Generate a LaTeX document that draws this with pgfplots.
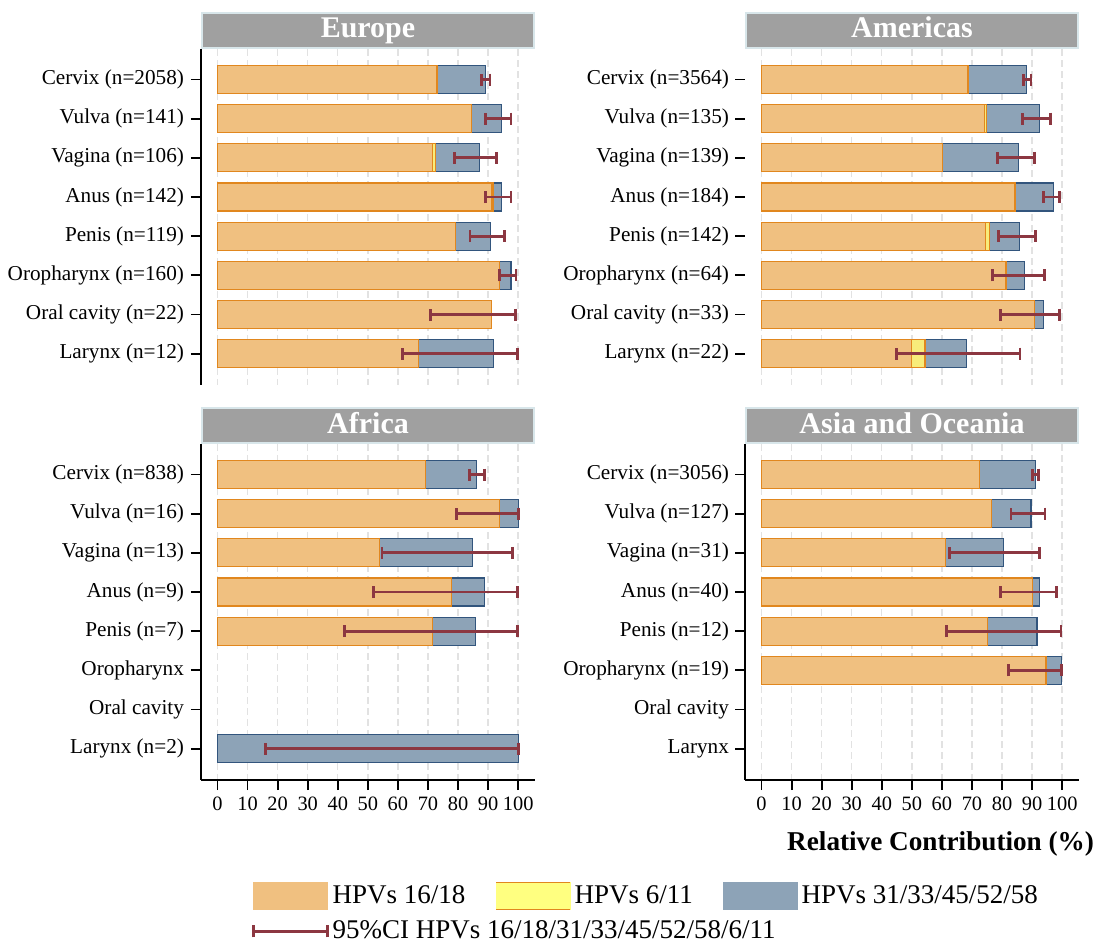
\documentclass[border=0pt]{standalone}
\usepackage{fontspec}
\setmainfont{Liberation Serif}
\usepackage{pgfplots}
\usepackage{pgfplotstable}
\pgfplotsset{compat=1.18}
\definecolor{orF}{HTML}{F0C080}
\definecolor{orE}{HTML}{E1871E}
\definecolor{blF}{HTML}{8DA3B7}
\definecolor{blE}{HTML}{32557D}
\definecolor{yeF}{HTML}{F8EC7A}
\definecolor{yeL}{HTML}{FFFF80}
\definecolor{ciC}{HTML}{8C3741}
\definecolor{tiF}{HTML}{A0A0A0}
\definecolor{tiE}{HTML}{D8E6EA}
\definecolor{grC}{HTML}{E2E2E2}

% pos: 1=Cervix ... 8=Larynx; o=HPV16/18, y6=HPV6/11, b=HPV31/33/45/52/58; lo,hi = 95% CI
\pgfplotstableread{
pos o y6 b lo hi
1 73.0 0 16.2 87.8 90.6
2 84.4 0 10.0 89.1 97.6
3 71.6 0.8 14.8 78.8 92.7
4 91.0 0.6 2.8 89.1 97.6
5 79.1 0 11.8 84.0 95.4
6 93.9 0 3.7 93.7 99.3
7 91.0 0 0 70.8 99.1
8 66.9 0 24.8 61.6 99.9
}\europe
\pgfplotstableread{
pos o y6 b lo hi
1 68.7 0 19.5 87.1 89.6
2 74.1 0.6 17.8 86.7 96.2
3 60.3 0 25.2 78.6 90.9
4 84.1 0.5 12.4 93.7 99.0
5 74.5 1.3 9.9 78.8 91.0
6 81.3 0 6.1 76.7 94.2
7 90.8 0 3.0 79.6 99.1
8 50.0 4.4 13.7 45.0 86.0
}\americas
\pgfplotstableread{
pos o y6 b lo hi
1 69.1 0 17.1 83.8 88.7
2 93.9 0 6.1 79.6 100
3 54.0 0 30.7 54.7 98.2
4 77.9 0 11.0 51.8 99.8
5 71.6 0 14.3 42.3 99.8
8 0 0 100 16.0 100
}\africa
\pgfplotstableread{
pos o y6 b lo hi
1 72.6 0 18.4 90.0 92.0
2 76.4 0 13.2 83.0 94.3
3 61.2 0 19.2 62.4 92.5
4 90.0 0 2.4 79.4 98.2
5 75.1 0 16.5 61.5 99.6
6 94.6 0 5.3 82.2 99.8
}\asia

\pgfplotsset{
  panel/.style={
    scale only axis, width=167pt, height=168pt,
    xmin=-5.5, xmax=105.6, ymin=0.22, ymax=8.8, y dir=reverse,
    axis y line*=left, axis x line*=bottom,
    xtick={0,10,...,100}, ytick={1,...,8},
    xmajorgrids, grid style={draw=grC, line width=0.7pt, dash pattern=on 3.5pt off 2pt},
    tick align=outside, major tick length=5pt,
    axis line style={line width=0.9pt, black},
    every tick/.style={line width=0.9pt, black},
    y tick label style={font=\fontsize{10.6}{12}\selectfont},
    x tick label style={font=\fontsize{10.2}{12}\selectfont},
    /pgf/number format/assume math mode=true,
    every axis title shift=0pt,
    title style={at={(0.5,1)}, anchor=south, yshift=0pt, fill=tiF, draw=tiE, line width=1pt,
      text=white, font=\bfseries\fontsize{15}{17}\selectfont,
      minimum width=166pt, minimum height=17.5pt, text height=10.5pt, text depth=3pt, inner sep=0pt},
    clip=false,
  },
  toppanel/.style={x axis line style={draw=none}, xticklabels={}, xtick style={draw=none}},
  bO/.style={xbar, bar width=14pt, bar shift=0pt, fill=orF, draw=orE, line width=0.6pt, forget plot,
    x filter/.expression={x<0.01 ? nan : x}},
  bY/.style={xbar, bar width=14pt, bar shift=0pt, fill=yeF, draw=orE, line width=0.6pt, forget plot,
    x filter/.expression={x<0.01 ? nan : x}},
  bB/.style={xbar, bar width=14pt, bar shift=0pt, fill=blF, draw=blE, line width=0.6pt, forget plot},
  ci/.style={draw=none, mark=none, forget plot,
    error bars/.cd, x dir=both, x explicit,
    error bar style={draw=ciC, line width=1.4pt},
    error mark=|, error mark options={draw=ciC, line width=1.4pt, mark size=3pt}},
}

\newcommand{\panelplots}[1]{%
  \addplot[bB] table[x expr=\thisrow{o}+\thisrow{y6}+\thisrow{b}, y=pos]{#1};
  \addplot[bY] table[x expr=\thisrow{o}+\thisrow{y6}, y=pos]{#1};
  \addplot[bO] table[x=o, y=pos]{#1};
  \addplot[ci] table[x expr=(\thisrow{lo}+\thisrow{hi})/2, y=pos, x error expr=(\thisrow{hi}-\thisrow{lo})/2]{#1};
}

\begin{document}
\begin{tikzpicture}
\begin{axis}[panel, toppanel, at={(100.5pt,278.5pt)}, anchor=south west, title={Europe},
  yticklabels={Cervix (n=2058),Vulva (n=141),Vagina (n=106),Anus (n=142),Penis (n=119),Oropharynx (n=160),Oral cavity (n=22),Larynx (n=12)}]
\panelplots{\europe}
\end{axis}
\begin{axis}[panel, toppanel, at={(372.5pt,278.5pt)}, anchor=south west, title={Americas},
  y axis line style={draw=none}, y tick label style={xshift=0.5pt},
  yticklabels={Cervix (n=3564),Vulva (n=135),Vagina (n=139),Anus (n=184),Penis (n=142),Oropharynx (n=64),Oral cavity (n=33),Larynx (n=22)}]
\panelplots{\americas}
\end{axis}
\begin{axis}[panel, at={(100.5pt,81pt)}, anchor=south west, title={Africa},
  yticklabels={Cervix (n=838),Vulva (n=16),Vagina (n=13),Anus (n=9),Penis (n=7),Oropharynx,Oral cavity,Larynx (n=2)}]
\panelplots{\africa}
\end{axis}
\begin{axis}[panel, at={(372.5pt,81pt)}, anchor=south west, title={Asia and Oceania},
  y tick label style={xshift=0.5pt},
  yticklabels={Cervix (n=3056),Vulva (n=127),Vagina (n=31),Anus (n=40),Penis (n=12),Oropharynx (n=19),Oral cavity,Larynx},
  xlabel={Relative Contribution (\%)},
  xlabel style={at={(axis description cs:1.066,-0.19)}, anchor=east, font=\bfseries\fontsize{13.6}{15}\selectfont},
  legend columns=3, legend cell align=left,
  legend style={at={(axis description cs:-1.495,-0.29)}, anchor=north west, draw=none, fill=none,
    font=\fontsize{13.5}{15}\selectfont, row sep=3pt,
    /tikz/every even column/.append style={column sep=13pt},
    nodes={inner sep=2pt}},
  ]
\panelplots{\asia}
\addlegendimage{legend image code/.code={\fill[orF] (0pt,-6.75pt) rectangle (37pt,6.75pt);}}
\addlegendentry{HPVs 16/18}
\addlegendimage{legend image code/.code={\fill[yeL] (0pt,-6.75pt) rectangle (37pt,6.75pt); \draw[orE, line width=0.6pt] (0pt,-6.75pt) -- (37pt,-6.75pt) (0pt,6.75pt) -- (37pt,6.75pt);}}
\addlegendentry{HPVs 6/11}
\addlegendimage{legend image code/.code={\fill[blF] (0pt,-6.75pt) rectangle (37pt,6.75pt);}}
\addlegendentry{HPVs 31/33/45/52/58}
\addlegendimage{legend image code/.code={\draw[ciC, line width=1.3pt] (0pt,0pt) -- (37pt,0pt); \draw[ciC, line width=1.3pt] (0pt,-3pt) -- (0pt,3pt) (37pt,-3pt) -- (37pt,3pt);}}
\addlegendentry{\makebox[0pt][l]{95\%CI HPVs 16/18/31/33/45/52/58/6/11}}
\end{axis}
\pgfresetboundingbox
\path (0pt,0pt) rectangle (548.5pt,471pt);
\end{tikzpicture}
\end{document}
